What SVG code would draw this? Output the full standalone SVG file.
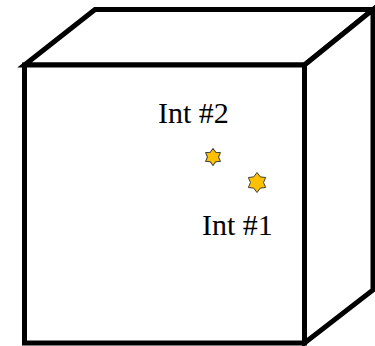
<svg xmlns="http://www.w3.org/2000/svg" width="375" height="346" viewBox="0 0 375 346">
<style>
.edge{fill:#fff;stroke:#000;stroke-width:5;stroke-linejoin:miter}
.lbl{font-family:"Liberation Serif","Times New Roman",serif;font-size:30px;fill:#000}
.star{fill:#FFC000;stroke:#404040}
</style>
<defs>
<polygon id="hex" points="0,-1 0.325,-0.563 0.866,-0.5 0.65,0 0.866,0.5 0.325,0.563 0,1 -0.325,0.563 -0.866,0.5 -0.65,0 -0.866,-0.5 -0.325,-0.563"/>
</defs>
<rect width="375" height="346" fill="#fff"/>
<g id="cube">
<polygon class="edge" points="24.5,65 95,9.5 373,9.5 304.5,65"/>
<polygon class="edge" points="304.5,65 373,9.5 373,290 304.5,343"/>
<rect class="edge" x="24.5" y="65" width="280" height="278"/>
</g>
<g id="int2">
<use href="#hex" class="star" transform="translate(213,157) scale(8.5)" style="stroke-width:0.12"/>
<text class="lbl" x="158" y="123">Int #2</text>
</g>
<g id="int1">
<use href="#hex" class="star" transform="translate(257,182.5) scale(10)" style="stroke-width:0.1"/>
<text class="lbl" x="202" y="235">Int #1</text>
</g>
</svg>
